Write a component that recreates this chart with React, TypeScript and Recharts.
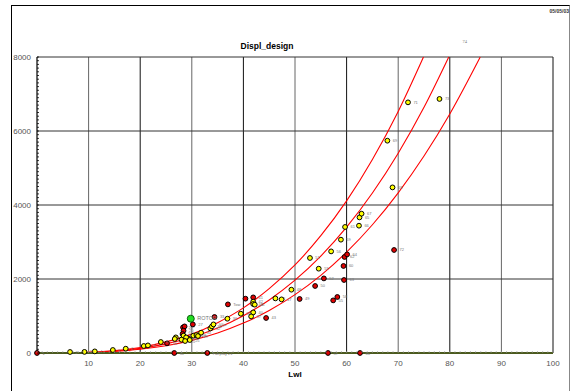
import { ComposedChart, Line, Scatter, XAxis, YAxis, ReferenceLine, ReferenceDot } from 'recharts'

// axis ticks / grid
const xTicks = [10, 20, 30, 40, 50, 60, 70, 80, 90, 100]
const yTicks = [0, 2000, 4000, 6000, 8000]
const xMinor = Array.from({ length: 101 }, (_, i) => i)
const yMinor = Array.from({ length: 81 }, (_, i) => i * 100)

// fitted curves (Lwl, Displ)
const curveHigh = [
  [0, 0], [5, 5], [10, 20], [15, 65], [20, 150], [25, 300], [30, 510], [35, 820], [40, 1220],
  [45, 1740], [50, 2380], [55, 3170], [60, 4110], [65, 5230], [70, 6530], [74.9, 8000],
]
const curveMid = [
  [0, 0], [5, 4], [10, 16], [15, 53], [20, 126], [25, 246], [30, 425], [35, 675], [40, 1007],
  [45, 1434], [50, 1968], [55, 2619], [60, 3400], [65, 4323], [70, 5399], [75, 6640], [79.8, 8000],
]
const curveLow = [
  [0, 0], [5, 3], [10, 13], [15, 43], [20, 101], [25, 197], [30, 341], [35, 541], [40, 808],
  [45, 1150], [50, 1578], [55, 2100], [60, 2726], [65, 3466], [70, 4329], [75, 5324], [80, 6461], [85.9, 8000],
]

// boats: [Lwl, Displ, label]
const redBoats: [number, number, string][] = [
  [0, 0, '1'], [25.2, 260, '10'], [26.6, 0, '31'], [28.3, 692, '22'], [28.6, 719, '19'],
  [28.4, 603, '20'], [28.2, 514, '18'], [29.4, 387, '24'], [30.2, 773, '27'], [33.0, 0, 'Fairplay 21'],
  [34.4, 973, '33'], [37.0, 1314, 'Tow'], [40.4, 1468, '39'], [41.9, 1503, '41'], [44.4, 946, '43'],
  [50.9, 1460, '49'], [53.9, 1811, '50'], [55.6, 2016, '52'], [57.4, 1422, '55'], [58.2, 1514, '58'],
  [59.5, 1973, '63'], [59.4, 2352, '60'], [59.6, 2595, '62'], [60.1, 2665, '64'], [56.4, 0, '57'],
  [62.6, 0, '66'], [69.2, 2784, '72'],
]
const yellowBoats: [number, number, string][] = [
  [6.4, 27, '2'], [9.2, 30, '3'], [11.2, 43, '4'], [14.7, 81, '5'], [17.2, 116, '6'],
  [20.7, 189, '7'], [21.5, 205, '8'], [24.0, 297, '9'], [26.9, 422, '12'], [26.7, 380, '11'],
  [28.4, 468, '17'], [28.9, 422, '16'], [28.0, 360, '14'], [28.7, 324, '15'], [29.6, 351, '25'],
  [30.3, 468, '26'], [30.9, 486, '28'], [31.2, 459, '29'], [31.8, 549, '30'], [33.6, 665, '32'],
  [33.9, 719, '34'], [34.2, 773, 'Vilja'], [36.9, 927, '36'], [39.5, 1062, '38'], [41.9, 1387, '42'],
  [41.9, 1324, '44'], [42.2, 1306, '45'], [41.9, 1097, '40'], [41.5, 989, '37'], [46.2, 1476, '46'],
  [47.4, 1449, '47'], [49.3, 1711, '48'], [52.9, 2568, '51'], [54.6, 2279, '53'], [57.0, 2746, '56'],
  [58.9, 3063, '59'], [59.7, 3406, '61'], [62.4, 3441, '66'], [62.5, 3665, '65'], [62.9, 3765, '67'],
  [67.9, 5738, '69'], [68.9, 4476, '68'], [71.9, 6774, '71'], [78.0, 6866, '73'],
]
const greenBoats: [number, number, string][] = [[29.8, 927, 'ROTOR']]

const toXY = (arr: number[][]) => arr.map(([x, y]) => ({ x, y }))
const toPts = (arr: [number, number, string][]) => arr.map(([x, y, label]) => ({ x, y, label }))

const font = 'Liberation Sans, Arial, sans-serif'

function BoatDot(props: any) {
  const { cx, cy, payload, fill, big } = props
  if (cx == null || cy == null) return null
  const r = big ? 3.5 : 2.4
  return (
    <g>
      <circle cx={cx} cy={cy} r={r} fill={fill} stroke={big ? '#0a5a0a' : '#000'} strokeWidth={1} />
      <text x={cx + r + 3} y={cy + 1.5} fontSize={big ? 5.5 : 4} fill="#777" fontFamily={font}>
        {payload.label}
      </text>
    </g>
  )
}

function YTick(props: any) {
  const { x, y, payload } = props
  const major = payload.value % 2000 === 0
  return (
    <g>
      <line x1={x + 6} y1={y} x2={x + 8} y2={y} stroke="#000" strokeWidth={0.8} />
      {major && (
        <text x={x} y={y} dy={3} textAnchor="end" fontSize={8} fill="#555" fontFamily={font}>
          {payload.value}
        </text>
      )}
    </g>
  )
}

function XTick(props: any) {
  const { x, y, payload } = props
  const major = payload.value % 10 === 0 && payload.value > 0
  return (
    <g>
      <line x1={x} y1={y - 4} x2={x} y2={y - 6} stroke="#999" strokeWidth={0.6} />
      {major && (
        <text x={x} y={y} dy={9} textAnchor="middle" fontSize={8} fill="#555" fontFamily={font}>
          {payload.value}
        </text>
      )}
    </g>
  )
}

export default function App() {
  return (
    <div style={{ position: 'absolute', left: 0, top: 0, width: 571, height: 391, background: '#fff', overflow: 'hidden' }}>
      <div style={{ position: 'absolute', left: 11, top: 5, width: 557, height: 400, borderLeft: '1.5px solid #000', borderTop: '1.5px solid #000', borderRight: '1px solid #888' }} />
      <div style={{ position: 'absolute', right: 2, top: 8, fontSize: 5, fontWeight: 'bold', fontFamily: font, color: '#333' }}>05/05/03</div>
      <div style={{ position: 'absolute', left: 217, width: 100, top: 41, textAlign: 'center', fontSize: 8.5, fontWeight: 'bold', fontFamily: font }}>Displ_design</div>
      <div style={{ position: 'absolute', left: 245, width: 100, top: 370, textAlign: 'center', fontSize: 8, fontWeight: 'bold', fontFamily: font }}>Lwl</div>
      <ComposedChart width={571} height={391} margin={{ top: 57, right: 18, bottom: 18, left: 0 }}>
        <XAxis
          type="number"
          dataKey="x"
          domain={[0, 100]}
          ticks={xMinor}
          interval={0}
          tick={<XTick />}
          tickSize={0}
          tickMargin={4}
          height={20}
          axisLine={{ stroke: '#4b5a1e', strokeWidth: 1.8 }}
          tickLine={false}
        />
        <YAxis
          type="number"
          dataKey="y"
          domain={[0, 8000]}
          ticks={yMinor}
          interval={0}
          tick={<YTick />}
          tickSize={0}
          tickMargin={6}
          width={37}
          axisLine={{ stroke: '#000', strokeWidth: 1.2 }}
          tickLine={false}
        />
        {xTicks.map((v) => (
          <ReferenceLine key={'gx' + v} x={v} stroke={v % 20 === 0 ? '#111' : '#666'} strokeWidth={1} />
        ))}
        {yTicks.filter((v) => v > 0).map((v) => (
          <ReferenceLine key={'gy' + v} y={v} stroke="#333" strokeWidth={1} />
        ))}
        <Line data={toXY(curveHigh)} dataKey="y" type="monotone" stroke="#ff0000" strokeWidth={1.1} dot={false} isAnimationActive={false} />
        <Line data={toXY(curveMid)} dataKey="y" type="monotone" stroke="#ff0000" strokeWidth={1.1} dot={false} isAnimationActive={false} />
        <Line data={toXY(curveLow)} dataKey="y" type="monotone" stroke="#ff0000" strokeWidth={1.1} dot={false} isAnimationActive={false} />
        <Scatter data={toPts(redBoats)} fill="#e00000" shape={<BoatDot />} isAnimationActive={false} />
        <Scatter data={toPts(yellowBoats)} fill="#ffff00" shape={<BoatDot />} isAnimationActive={false} />
        <Scatter data={toPts(greenBoats)} fill="#22dd22" shape={<BoatDot big />} isAnimationActive={false} />
        <ReferenceDot
          x={81.5}
          y={8420}
          r={0}
          ifOverflow="visible"
          label={{ value: '74', position: 'right', fontSize: 4.5, fill: '#777' }}
        />
      </ComposedChart>
    </div>
  )
}
